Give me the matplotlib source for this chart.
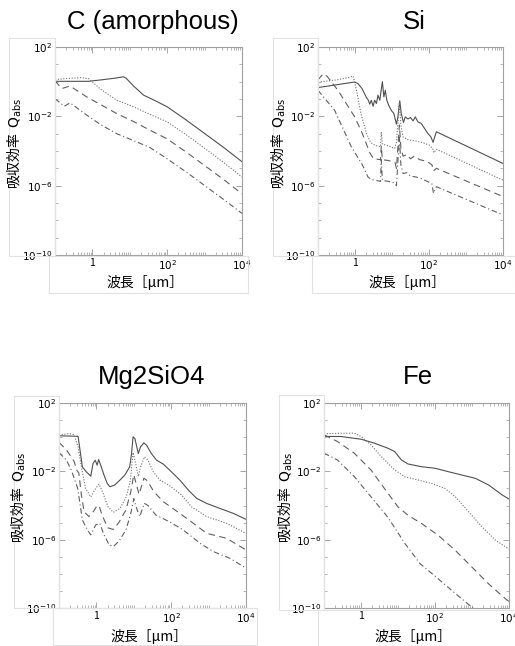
"""Absorption efficiency Q_abs vs wavelength for four dust species."""
import matplotlib
matplotlib.use("Agg")
import matplotlib.pyplot as plt
import matplotlib.patches as mpatches
import matplotlib.ticker as mticker
import numpy as np

W, H = 515, 646

# (log10 wavelength [um], log10 Q_abs); four grain sizes per panel
C_SOLID = [(-1.0, 0.02), (-0.1, 0.02), (0.3, 0.12), (0.6, 0.2), (0.83, 0.28), (0.9, 0.2),
           (1.1, -0.25), (1.37, -0.78), (1.7, -1.12), (2.0, -1.45), (2.5, -2.2),
           (2.88, -2.8), (3.5, -3.78), (4.0, -4.62)]
C_DOTTED = [(-1.0, 0.12), (-0.6, 0.2), (-0.3, 0.23), (-0.1, 0.18), (0.2, -0.4), (0.65, -1.07),
            (1.1, -1.45), (1.5, -1.85), (2.0, -2.32), (2.5, -3.05), (2.88, -3.65),
            (3.5, -4.65), (4.0, -5.5)]
C_DASHED = [(-1.0, 0.05), (-0.82, -0.4), (-0.6, -0.25), (-0.15, -0.88), (0.65, -1.84),
            (1.1, -2.3), (1.54, -2.8), (2.0, -3.3), (2.5, -4.05), (2.88, -4.65),
            (3.5, -5.63), (4.0, -6.47)]
C_DASHDOT = [(-1.0, -0.98), (-0.75, -1.42), (-0.6, -1.22), (-0.15, -1.93), (0.2, -2.45),
             (0.65, -3.0), (1.1, -3.4), (1.54, -3.8), (2.0, -4.45), (2.5, -5.2),
             (2.88, -5.8), (3.5, -6.78), (4.0, -7.6)]

SI_SOLID = [(-1.0, -0.34), (-0.01, -0.02), (0.08, -0.11), (0.19, -0.4), (0.31, -0.92),
            (0.35, -1.03), (0.40, -1.30), (0.44, -1.07), (0.49, -1.42), (0.53, -1.07),
            (0.58, -1.26), (0.62, -0.78), (0.67, -1.07), (0.71, -0.45), (0.74, 0.0),
            (0.78, -0.88), (0.82, -0.5), (0.86, -1.07), (0.91, -1.36), (0.98, -1.65),
            (1.05, -1.84), (1.12, -2.45), (1.16, -2.03), (1.21, -1.1), (1.25, -1.84),
            (1.31, -2.35), (1.36, -2.03), (1.43, -2.15), (1.50, -2.07), (1.57, -2.26),
            (1.63, -2.03), (1.70, -2.32), (1.79, -2.41), (1.88, -2.7), (1.97, -2.99),
            (2.05, -3.18), (2.11, -3.5), (2.15, -3.22), (2.2, -2.89), (4.0, -4.72)]
SI_DOTTED = [(-1.0, -0.02), (-0.5, 0.1), (-0.19, 0.23), (-0.05, 0.33), (0.04, -0.5),
             (0.17, -1.93), (0.31, -2.99), (0.42, -3.5), (0.55, -3.68), (0.69, -3.75),
             (0.71, -2.9), (0.74, -3.6), (0.9, -3.7), (1.07, -3.85), (1.12, -3.5),
             (1.2, -1.2), (1.24, -2.5), (1.3, -3.2), (1.45, -3.37), (1.6, -3.4),
             (1.8, -3.5), (2.0, -3.65), (2.1, -3.85), (2.13, -4.1), (2.2, -3.9), (4.0, -5.68)]
SI_DASHED = [(-1.0, 0.1), (-0.86, 0.46), (-0.75, 0.3), (-0.46, -0.5), (-0.01, -2.03),
             (0.2, -3.0), (0.4, -4.1), (0.5, -4.45), (0.69, -4.5), (0.71, -3.7),
             (0.74, -4.5), (0.9, -4.55), (1.08, -4.65), (1.12, -5.0), (1.2, -2.5),
             (1.24, -3.8), (1.3, -4.3), (1.4, -4.2), (1.5, -4.45), (1.6, -4.3),
             (1.75, -4.5), (1.95, -4.6), (2.08, -4.8), (2.12, -5.15), (2.2, -5.0), (4.0, -6.63)]
SI_DASHDOT = [(-1.0, -0.5), (-0.55, -1.65), (-0.1, -3.76), (0.2, -4.8), (0.35, -5.5),
              (0.45, -5.65), (0.69, -5.75), (0.71, -4.5), (0.74, -5.7), (0.9, -5.75),
              (1.08, -5.85), (1.12, -6.0), (1.2, -3.2), (1.24, -4.8), (1.3, -5.3),
              (1.4, -5.25), (1.5, -5.45), (1.65, -5.5), (1.8, -5.6), (1.95, -5.75),
              (2.08, -5.9), (2.12, -6.44), (2.2, -6.06), (4.0, -7.69)]

MG_SOLID = [(-1.0, 0.08), (-0.49, 0.05), (-0.45, -0.57), (-0.375, -1.74), (-0.27, -2.03),
            (-0.15, -2.28), (-0.09, -1.54), (-0.03, -1.35), (0.02, -1.64), (0.06, -1.31),
            (0.13, -1.74), (0.22, -2.32), (0.29, -2.71), (0.36, -2.9), (0.49, -2.8),
            (0.63, -2.51), (0.76, -2.22), (0.89, -1.74), (0.94, -0.96), (0.98, 0.02),
            (1.03, -0.08), (1.09, -0.67), (1.12, -0.96), (1.18, -0.57), (1.27, -0.33),
            (1.34, -0.47), (1.47, -0.96), (1.61, -1.35), (1.79, -1.58), (1.96, -1.93),
            (2.23, -2.51), (2.46, -3.1), (2.68, -3.58), (2.95, -3.88), (3.3, -4.17),
            (3.66, -4.46), (4.0, -4.81)]
MG_DOTTED = [(-1.0, 0.11), (-0.73, 0.21), (-0.6, 0.15), (-0.49, -0.57), (-0.4, -1.74),
             (-0.29, -3.0), (-0.15, -3.5), (-0.02, -3.0), (0.07, -2.75), (0.18, -3.29),
             (0.31, -4.07), (0.45, -4.4), (0.63, -4.17), (0.8, -3.49), (0.91, -2.51),
             (0.98, -0.9), (1.03, -1.35), (1.12, -2.3), (1.18, -1.74), (1.29, -1.15),
             (1.38, -1.35), (1.52, -2.03), (1.7, -2.51), (1.96, -2.85), (2.28, -3.39),
             (2.54, -4.07), (2.95, -4.65), (3.48, -5.04), (4.0, -5.63)]
MG_DASHED = [(-1.0, -0.3), (-0.8, -0.75), (-0.6, -1.4), (-0.52, -1.95), (-0.47, -2.1),
             (-0.4, -3.4), (-0.33, -4.36), (-0.2, -4.65), (-0.08, -4.35), (0.0, -4.07),
             (0.07, -4.0), (0.15, -4.55), (0.3, -5.3), (0.45, -5.4), (0.6, -5.0),
             (0.79, -4.26), (0.92, -3.19), (1.0, -2.2), (1.06, -2.7), (1.14, -3.35),
             (1.27, -2.4), (1.36, -2.55), (1.54, -3.2), (1.79, -3.78), (2.23, -4.46),
             (2.59, -5.04), (2.95, -5.63), (3.48, -5.92), (4.0, -6.6)]
MG_DASHDOT = [(-1.0, -0.9), (-0.8, -1.35), (-0.67, -1.93), (-0.5, -3.0), (-0.375, -4.85),
              (-0.24, -5.43), (-0.15, -5.72), (-0.02, -5.14), (0.09, -5.04), (0.2, -5.7),
              (0.34, -6.3), (0.45, -6.4), (0.6, -6.1), (0.79, -5.43), (0.92, -4.46),
              (1.0, -3.6), (1.08, -4.2), (1.16, -4.65), (1.28, -3.87), (1.38, -4.0),
              (1.59, -4.56), (1.95, -4.95), (2.32, -5.43), (2.77, -6.21), (3.13, -6.7),
              (3.57, -7.09), (4.0, -7.67)]

FE_SOLID = [(-1.0, 0.04), (-0.55, 0.04), (0.0, -0.12), (0.36, -0.35), (0.73, -0.65),
            (0.91, -0.84), (1.09, -1.33), (1.27, -1.57), (1.64, -1.73), (2.0, -1.82),
            (2.36, -2.02), (2.73, -2.22), (3.09, -2.41), (3.45, -2.8), (3.82, -3.39),
            (4.0, -3.62)]
FE_DOTTED = [(-1.0, 0.2), (-0.18, 0.24), (0.0, 0.04), (0.27, -0.45), (0.55, -1.14),
             (0.91, -1.92), (1.18, -2.31), (1.55, -2.51), (1.91, -2.71), (2.27, -3.0),
             (2.55, -3.49), (2.91, -4.37), (3.27, -5.25), (3.64, -6.04), (4.0, -6.55)]
FE_DASHED = [(-1.0, 0.14), (-0.64, -0.25), (-0.18, -0.94), (0.27, -1.92), (0.73, -3.29),
             (1.0, -4.08), (1.27, -4.57), (1.64, -5.06), (2.09, -5.75), (2.55, -6.63),
             (3.0, -7.61), (3.45, -8.59), (3.91, -9.47), (4.0, -9.62)]
FE_DASHDOT = [(-1.0, -0.94), (-0.64, -1.33), (-0.18, -2.31), (0.27, -3.49), (0.73, -4.7),
              (1.18, -6.2), (1.59, -7.39), (2.09, -8.3), (2.55, -9.15), (3.05, -10.05)]

TITLES = ["C (amorphous)", "Si", "Mg2SiO4", "Fe"]
XTICK_LABELS = ["1", r"$10^{2}$", r"$10^{4}$"]
YTICK_LABELS = [r"$10^{-10}$", r"$10^{-6}$", r"$10^{-2}$", r"$10^{2}$"]
YLABEL = "吸収効率  $\\mathrm{Q_{abs}}$"
XLABEL = "波長［μm］"

STYLES = [
    dict(linestyle="-", color="#505050", linewidth=0.8),
    dict(linestyle=(0, (1, 1.5)), color="#707070", linewidth=0.8),
    dict(linestyle=(0, (6, 4)), color="#606060", linewidth=0.8),
    dict(linestyle=(0, (5, 2.5, 1, 2.5)), color="#606060", linewidth=0.8),
]

# pixel layout: axes box, title centre, ylabel x, xlabel y, faint label frames
PANELS = [
    dict(box=(55, 47, 242, 255), title=(153, 22), ylab_x=15, xlab_y=283,
         frames=[(9, 38, 55, 256), (49, 256, 248, 293)]),
    dict(box=(318, 47, 503, 255), title=(414, 22), ylab_x=279, xlab_y=283,
         frames=[(273, 38, 318, 256), (312, 256, 515, 293)]),
    dict(box=(59, 403, 246, 608), title=(152, 377), ylab_x=19, xlab_y=636,
         frames=[(14, 396, 59, 608), (53, 608, 257, 645)]),
    dict(box=(324, 403, 509, 608), title=(418, 377), ylab_x=286, xlab_y=636,
         frames=[(279, 395, 324, 610), (318, 610, 520, 650)]),
]


def px_rect(x0, y0, x1, y1):
    return [x0 / W, 1 - y1 / H, (x1 - x0) / W, (y1 - y0) / H]


def draw_panel(fig, spec, title, curves):
    x0, y0, x1, y1 = spec["box"]
    for fx0, fy0, fx1, fy1 in spec["frames"]:
        r = px_rect(fx0, fy0, fx1, fy1)
        fig.add_artist(mpatches.Rectangle((r[0], r[1]), r[2], r[3], transform=fig.transFigure,
                                          fill=False, edgecolor="#e2e2e2", linewidth=0.8))

    ax = fig.add_axes(px_rect(x0, y0, x1, y1))
    for pts, style in zip(curves, STYLES):
        arr = np.array(pts)
        ax.plot(10 ** arr[:, 0], 10 ** arr[:, 1], **style)

    ax.set_xscale("log")
    ax.set_yscale("log")
    ax.set_xlim(1e-1, 1e4)
    ax.set_ylim(1e-10, 1e2)

    ax.xaxis.set_major_locator(mticker.FixedLocator([1, 1e2, 1e4]))
    ax.xaxis.set_major_formatter(mticker.FixedFormatter(XTICK_LABELS))
    ax.xaxis.set_minor_locator(mticker.LogLocator(base=10, subs=np.arange(1, 10), numticks=50))
    ax.xaxis.set_minor_formatter(mticker.NullFormatter())
    ax.yaxis.set_major_locator(mticker.FixedLocator([1e-10, 1e-6, 1e-2, 1e2]))
    ax.yaxis.set_major_formatter(mticker.FixedFormatter(YTICK_LABELS))
    ax.yaxis.set_minor_locator(mticker.FixedLocator([10.0 ** k for k in range(-10, 3)]))
    ax.yaxis.set_minor_formatter(mticker.NullFormatter())

    ax.tick_params(which="both", direction="in", top=True, right=True, color="#999999",
                   labelsize=7.5, pad=2)
    ax.tick_params(which="major", length=4, width=0.6)
    ax.tick_params(which="minor", length=2.5, width=0.5)
    for sp in ax.spines.values():
        sp.set_color("#a0a0a0")
        sp.set_linewidth(0.8)

    tx, ty = spec["title"]
    fig.text(tx / W, 1 - ty / H, title, ha="center", va="center", fontsize=18.5,
             family=["Liberation Sans", "DejaVu Sans"])
    fig.text(spec["ylab_x"] / W, 1 - ((y0 + y1) / 2 - 8) / H, YLABEL, rotation=90,
             ha="center", va="center", fontsize=10)
    fig.text((x0 + x1) / 2 / W - 0.006, 1 - spec["xlab_y"] / H, XLABEL,
             ha="center", va="center", fontsize=10)
    return ax


def main():
    plt.rcParams["font.family"] = ["Noto Sans CJK JP", "DejaVu Sans"]
    fig = plt.figure(figsize=(W / 100, H / 100), dpi=100)
    all_curves = [
        (C_SOLID, C_DOTTED, C_DASHED, C_DASHDOT),
        (SI_SOLID, SI_DOTTED, SI_DASHED, SI_DASHDOT),
        (MG_SOLID, MG_DOTTED, MG_DASHED, MG_DASHDOT),
        (FE_SOLID, FE_DOTTED, FE_DASHED, FE_DASHDOT),
    ]
    for spec, title, curves in zip(PANELS, TITLES, all_curves):
        draw_panel(fig, spec, title, curves)
    fig.savefig("out.png", dpi=100)
    plt.close(fig)


if __name__ == "__main__":
    main()
